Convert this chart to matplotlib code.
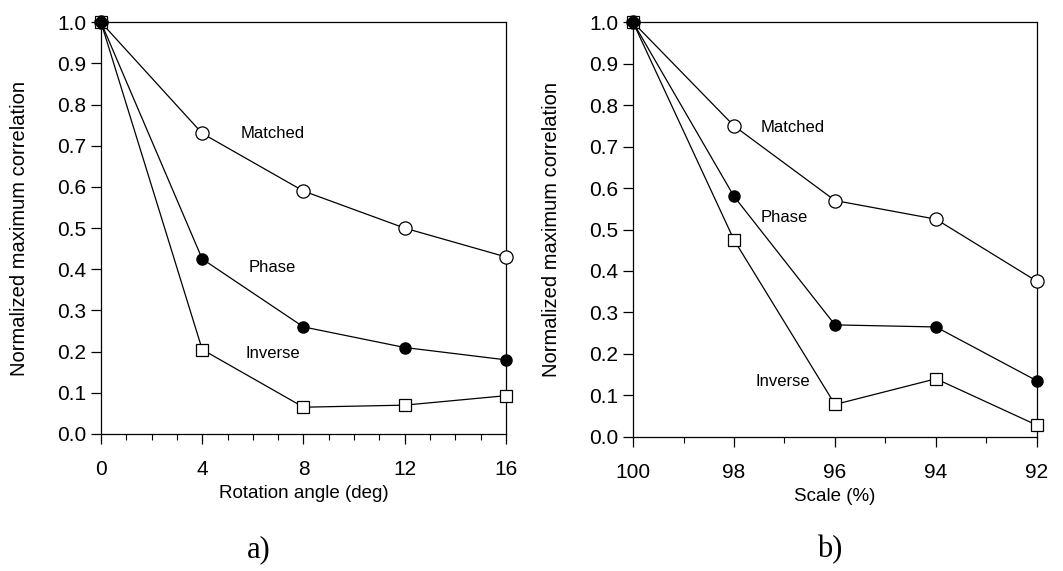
import matplotlib.pyplot as plt
from matplotlib.ticker import MultipleLocator

# panel a) rotation
angle = [0, 4, 8, 12, 16]
rot_matched = [1.0, 0.73, 0.59, 0.50, 0.43]
rot_phase = [1.0, 0.425, 0.26, 0.21, 0.18]
rot_inverse = [1.0, 0.205, 0.065, 0.07, 0.093]

# panel b) scale
scale = [100, 98, 96, 94, 92]
sc_matched = [1.0, 0.75, 0.57, 0.525, 0.375]
sc_phase = [1.0, 0.58, 0.27, 0.265, 0.135]
sc_inverse = [1.0, 0.475, 0.078, 0.14, 0.028]

plt.rcParams['font.family'] = ['Liberation Sans', 'DejaVu Sans']

fig = plt.figure(figsize=(10.63, 5.71), dpi=100)
ax1 = fig.add_axes([0.095, 0.24, 0.381, 0.721])
ax2 = fig.add_axes([0.5955, 0.235, 0.38, 0.726])


def draw(ax, x, matched, phase, inverse):
    ax.plot(x, matched, color='black', lw=0.9, marker='o', ms=9.5,
            mfc='white', mec='black', mew=0.9, clip_on=False, zorder=3)
    ax.plot(x, inverse, color='black', lw=0.9, marker='s', ms=9,
            mfc='white', mec='black', mew=0.9, clip_on=False, zorder=3)
    ax.plot(x, phase, color='black', lw=0.9, marker='o', ms=8,
            mfc='black', mec='black', clip_on=False, zorder=4)
    ax.set_ylim(0, 1.0)
    ax.yaxis.set_major_locator(MultipleLocator(0.1))
    ax.yaxis.set_major_formatter(plt.FormatStrFormatter('%.1f'))
    ax.xaxis.set_minor_locator(MultipleLocator(1))
    ax.tick_params(axis='both', which='major', direction='out', length=7,
                   width=0.9, labelsize=15)
    ax.tick_params(axis='x', which='minor', direction='out', length=4, width=0.8)
    ax.tick_params(axis='x', pad=12)
    for s in ax.spines.values():
        s.set_linewidth(0.9)
    ax.set_ylabel('Normalized maximum correlation', fontsize=14.5, labelpad=20)


draw(ax1, angle, rot_matched, rot_phase, rot_inverse)
ax1.set_xlim(0, 16)
ax1.set_xticks(angle)
ax1.set_xlabel('Rotation angle (deg)', fontsize=13.5, labelpad=4)
ax1.text(6.8, 0.73, 'Matched', fontsize=12, ha='center', va='center')
ax1.text(6.75, 0.405, 'Phase', fontsize=12, ha='center', va='center')
ax1.text(6.8, 0.196, 'Inverse', fontsize=12, ha='center', va='center')

draw(ax2, scale, sc_matched, sc_phase, sc_inverse)
ax2.set_xlim(100, 92)
ax2.set_xticks(scale)
ax2.set_xlabel('Scale (%)', fontsize=13.5, labelpad=4)
ax2.text(96.83, 0.745, 'Matched', fontsize=12, ha='center', va='center')
ax2.text(97.0, 0.53, 'Phase', fontsize=12, ha='center', va='center')
ax2.text(97.03, 0.133, 'Inverse', fontsize=12, ha='center', va='center')

fig.text(0.243, 0.025, 'a)', fontsize=22, family='Liberation Serif', ha='center')
fig.text(0.781, 0.025, 'b)', fontsize=22, family='Liberation Serif', ha='center')

fig.savefig('out.png', dpi=100)
